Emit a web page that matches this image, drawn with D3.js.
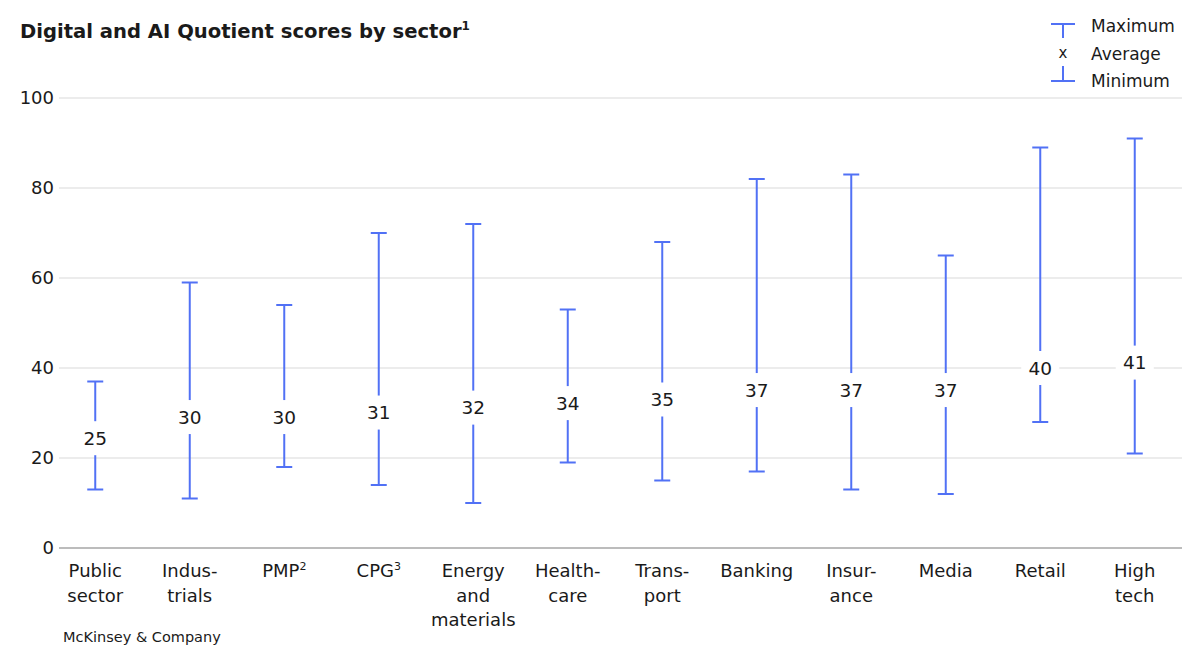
<!DOCTYPE html>
<html>
<head>
<meta charset="utf-8">
<script src="https://cdn.jsdelivr.net/npm/d3@7"></script>
<style>
  body { margin: 0; background: #fff; }
  svg text { font-family: "DejaVu Sans", sans-serif; fill: #1a1a1a; }
</style>
</head>
<body>
<svg id="chart" width="1200" height="670"></svg>
<script>
// sectors, each label split into lines; sup = footnote marker
var sectors = [
  ["Public", "sector"], ["Indus-", "trials"], ["PMP"], ["CPG"],
  ["Energy", "and", "materials"], ["Health-", "care"], ["Trans-", "port"],
  ["Banking"], ["Insur-", "ance"], ["Media"], ["Retail"], ["High", "tech"]
];
var sups = ["", "", "2", "3", "", "", "", "", "", "", "", ""];
var maxVals = [37, 59, 54, 70, 72, 53, 68, 82, 83, 65, 89, 91];
var minVals = [13, 11, 18, 14, 10, 19, 15, 17, 13, 12, 28, 21];
// printed averages, and where each average sits on the scale
var avgLabels = [25, 30, 30, 31, 32, 34, 35, 37, 37, 37, 40, 41];
var avgVals = [24.4, 29.1, 29.1, 30.1, 31.2, 32.2, 33, 35.1, 35.1, 35.1, 40, 41.2];
var yTicks = [0, 20, 40, 60, 80, 100];

var blue = "#5171f5";
var svg = d3.select("#chart");

var x = d3.scaleBand()
  .domain(d3.range(sectors.length))
  .range([48, 1182]);

var y = d3.scaleLinear()
  .domain([0, 100])
  .range([548, 98]);

// title
var title = svg.append("text")
  .attr("x", 20).attr("y", 38)
  .style("font-size", "19.6px").style("font-weight", "bold")
  .text("Digital and AI Quotient scores by sector");
title.append("tspan")
  .attr("dy", -8).style("font-size", "12px")
  .text("1");

// grid + y labels
svg.append("g").selectAll("line")
  .data(yTicks)
  .enter().append("line")
  .attr("x1", 59).attr("x2", 1182)
  .attr("y1", d => y(d)).attr("y2", d => y(d))
  .attr("stroke", d => d == 0 ? "#a6a6a6" : "#d9d9d9")
  .attr("stroke-width", d => d == 0 ? 1.5 : 1);

svg.append("g").selectAll("text")
  .data(yTicks)
  .enter().append("text")
  .attr("x", 54).attr("y", d => y(d))
  .attr("dy", "0.36em")
  .attr("text-anchor", "end")
  .style("font-size", "18px")
  .text(d => d);

// range bars
var bars = svg.append("g").selectAll("g")
  .data(d3.range(sectors.length))
  .enter().append("g")
  .attr("transform", i => "translate(" + (x(i) + x.bandwidth() / 2) + ",0)");

bars.append("line")
  .attr("x1", 0).attr("x2", 0)
  .attr("y1", i => y(minVals[i])).attr("y2", i => y(maxVals[i]))
  .attr("stroke", blue).attr("stroke-width", 2);

bars.append("line")
  .attr("x1", -8).attr("x2", 8)
  .attr("y1", i => y(maxVals[i])).attr("y2", i => y(maxVals[i]))
  .attr("stroke", blue).attr("stroke-width", 2);

bars.append("line")
  .attr("x1", -8).attr("x2", 8)
  .attr("y1", i => y(minVals[i])).attr("y2", i => y(minVals[i]))
  .attr("stroke", blue).attr("stroke-width", 2);

// white box behind the average label
bars.append("rect")
  .attr("x", -19).attr("width", 38)
  .attr("y", i => y(avgVals[i]) - 17).attr("height", 34)
  .attr("fill", "#fff");

bars.append("text")
  .attr("y", i => y(avgVals[i]))
  .attr("dy", "0.36em")
  .attr("text-anchor", "middle")
  .style("font-size", "18.5px")
  .text(i => avgLabels[i]);

// category labels
var cats = bars.append("text")
  .attr("text-anchor", "middle")
  .style("font-size", "18px");

cats.each(function(i) {
  var t = d3.select(this);
  sectors[i].forEach(function(line, k) {
    t.append("tspan")
      .attr("x", 0)
      .attr("y", 577 + k * 24.5)
      .text(line);
    if (k == 0 && sups[i]) {
      t.append("tspan")
        .attr("dy", -7).style("font-size", "11px")
        .text(sups[i]);
    }
  });
});

// legend
var lg = svg.append("g").attr("transform", "translate(1063,0)");
lg.append("line").attr("x1", -12).attr("x2", 12).attr("y1", 24).attr("y2", 24)
  .attr("stroke", blue).attr("stroke-width", 2);
lg.append("line").attr("x1", 0).attr("x2", 0).attr("y1", 24).attr("y2", 38)
  .attr("stroke", blue).attr("stroke-width", 2);
lg.append("line").attr("x1", 0).attr("x2", 0).attr("y1", 66).attr("y2", 81)
  .attr("stroke", blue).attr("stroke-width", 2);
lg.append("line").attr("x1", -12).attr("x2", 12).attr("y1", 81).attr("y2", 81)
  .attr("stroke", blue).attr("stroke-width", 2);
lg.append("text").attr("x", 0).attr("y", 58).attr("text-anchor", "middle")
  .style("font-size", "15px").text("x");

var legendNames = ["Maximum", "Average", "Minimum"];
lg.selectAll(".lname")
  .data(legendNames)
  .enter().append("text")
  .attr("class", "lname")
  .attr("x", 28)
  .attr("y", (d, k) => 32 + k * 27.5)
  .style("font-size", "17px")
  .text(d => d);

// source
svg.append("text")
  .attr("x", 63).attr("y", 642)
  .style("font-size", "14.5px")
  .text("McKinsey & Company");
</script>
</body>
</html>
